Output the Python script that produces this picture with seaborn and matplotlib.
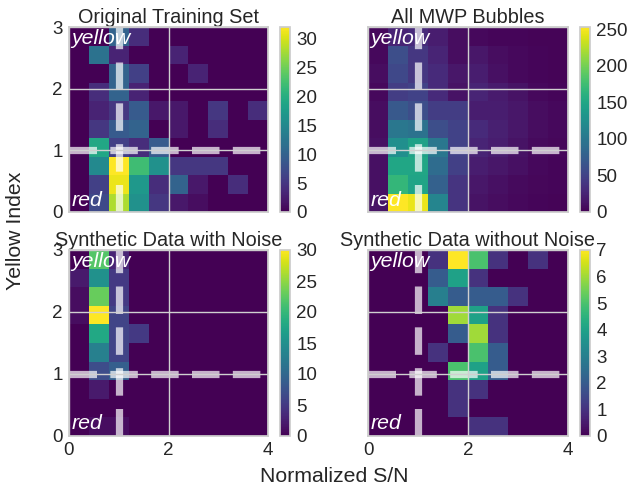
import numpy as np
import pandas as pd
import matplotlib
matplotlib.use("Agg")
import matplotlib.pyplot as plt
import seaborn as sns

# Histogram bin edges (normalized S/N along x, yellow index along y)
sn_edges = [0.0, 0.4, 0.8, 1.2, 1.6, 2.0, 2.4, 2.8, 3.2, 3.6, 4.0]
yi_edges = [0.0, 0.3, 0.6, 0.9, 1.2, 1.5, 1.8, 2.1, 2.4, 2.7, 3.0]

titles = ["Original Training Set", "All MWP Bubbles",
          "Synthetic Data with Noise", "Synthetic Data without Noise"]

# Counts per cell; each list row runs from the top bin (2.7-3.0) down to the bottom bin (0-0.3)
counts_training = [
    [0, 0, 10, 4, 0, 0, 0, 0, 0, 0],
    [0, 12, 3, 0, 0, 3, 0, 0, 0, 0],
    [0, 0, 10, 6, 0, 0, 3, 0, 0, 0],
    [0, 4, 10, 3, 0, 0, 0, 0, 0, 0],
    [0, 3, 5, 9, 2, 2, 0, 5, 0, 4],
    [0, 5, 9, 10, 0, 2, 0, 4, 0, 0],
    [0, 19, 6, 4, 9, 0, 0, 0, 0, 0],
    [0, 15, 32, 22, 16, 5, 5, 5, 0, 0],
    [0, 6, 31, 17, 4, 10, 2, 0, 4, 0],
    [0, 7, 28, 16, 5, 2, 1, 0, 0, 0],
]
counts_bubbles = [
    [5, 25, 30, 20, 8, 5, 3, 3, 2, 2],
    [5, 60, 40, 25, 8, 15, 8, 5, 3, 2],
    [8, 55, 40, 30, 15, 20, 10, 5, 3, 2],
    [5, 45, 50, 30, 12, 25, 18, 12, 5, 3],
    [8, 70, 60, 45, 45, 20, 20, 15, 8, 5],
    [8, 100, 95, 60, 50, 30, 22, 15, 8, 5],
    [10, 125, 145, 100, 50, 25, 20, 12, 6, 4],
    [10, 150, 150, 88, 48, 20, 15, 10, 5, 3],
    [10, 168, 148, 78, 38, 15, 10, 6, 4, 3],
    [12, 253, 245, 115, 38, 12, 8, 5, 3, 2],
]
counts_noise = [
    [0, 22, 3, 0, 0, 0, 0, 0, 0, 0],
    [2, 15, 5, 0, 0, 0, 0, 0, 0, 0],
    [1, 23, 5, 0, 0, 0, 0, 0, 0, 0],
    [1, 30, 6, 0, 0, 0, 0, 0, 0, 0],
    [0, 18, 6, 5, 0, 0, 0, 0, 0, 0],
    [0, 13, 6, 0, 0, 0, 0, 0, 0, 0],
    [0, 7, 9, 0, 0, 0, 0, 0, 0, 0],
    [0, 2, 0, 0, 0, 0, 0, 0, 0, 0],
    [0, 0, 0, 0, 0, 0, 0, 0, 0, 0],
    [0, 1, 1, 0, 0, 0, 0, 0, 0, 0],
]
counts_clean = [
    [0, 0, 0, 1, 7, 5, 1, 0, 1, 0],
    [0, 0, 0, 2, 4, 1, 0, 0, 0, 0],
    [0, 0, 0, 3, 2, 2, 2, 1, 0, 0],
    [0, 0, 0, 0, 6, 4, 1, 0, 0, 0],
    [0, 0, 0, 0, 2, 6, 1, 0, 0, 0],
    [0, 0, 0, 1, 0, 5, 2, 0, 0, 0],
    [0, 0, 0, 0, 5, 4, 2, 0, 0, 0],
    [0, 0, 0, 0, 1, 1, 0, 0, 0, 0],
    [0, 0, 0, 0, 1, 0, 0, 0, 0, 0],
    [0, 0, 0, 0, 0, 1, 1, 0, 0, 0],
]

cbar_ticks = [
    [0, 5, 10, 15, 20, 25, 30],
    [0, 50, 100, 150, 200, 250],
    [0, 5, 10, 15, 20, 25, 30],
    [0, 1, 2, 3, 4, 5, 6, 7],
]
x_ticks = [0, 2, 4]
y_ticks = [0, 1, 2, 3]


def to_long(counts):
    grid = np.asarray(counts, dtype=float)[::-1]
    xe = np.asarray(sn_edges)
    ye = np.asarray(yi_edges)
    xc = (xe[:-1] + xe[1:]) / 2
    yc = (ye[:-1] + ye[1:]) / 2
    xx, yy = np.meshgrid(xc, yc)
    return pd.DataFrame({"sn": xx.ravel(), "yi": yy.ravel(), "n": grid.ravel()})


sns.set_theme(style="whitegrid")
plt.rcParams["font.family"] = ["Liberation Sans", "DejaVu Sans"]
plt.rcParams["lines.scale_dashes"] = False

W, H = 630, 491
fig = plt.figure(figsize=(W / 100, H / 100), dpi=100)


def rect(l, r, t, b):
    return [l / W, 1 - b / H, (r - l) / W, (b - t) / H]


axes_px = [(69, 268, 27, 212), (368, 568, 27, 212),
           (69, 268, 250, 436), (368, 568, 250, 436)]
cbar_px = [(280, 290, 27, 212), (580, 590, 27, 212),
           (280, 290, 250, 436), (580, 590, 250, 436)]

panels = [counts_training, counts_bubbles, counts_noise, counts_clean]
LABEL = 15.3
TITLE = 14.3
TICK = 13.5
EDGE = "#cccccc"

for i, counts in enumerate(panels):
    ax = fig.add_axes(rect(*axes_px[i]))
    cax = fig.add_axes(rect(*cbar_px[i]))
    df = to_long(counts)
    sns.histplot(data=df, x="sn", y="yi", weights="n",
                 bins=[sn_edges, yi_edges], thresh=None, cmap="viridis",
                 cbar=True, cbar_ax=cax, cbar_kws={"ticks": cbar_ticks[i]},
                 ax=ax)
    ax.set_xlim(0, 4)
    ax.set_ylim(0, 3)
    ax.set_xticks(x_ticks)
    ax.set_yticks(y_ticks)
    ax.set_xlabel("")
    ax.set_ylabel("")
    ax.set_axisbelow(False)
    ax.grid(True, color="#d0d0d0", lw=1.0, zorder=3)
    ax.tick_params(length=0, labelsize=TICK, pad=4.5, colors="#262626")
    if i < 2:
        ax.tick_params(labelbottom=False)
    if i % 2 == 1:
        ax.tick_params(labelleft=False)
    for sp in ax.spines.values():
        sp.set_edgecolor(EDGE)
        sp.set_linewidth(1.25)
        sp.set_zorder(4)

    ax.axvline(1, color="white", alpha=0.7, lw=5.2, dashes=(19.8, 9.6), zorder=2)
    ax.axhline(1, color="white", alpha=0.7, lw=5.2, dashes=(19.8, 9.6), zorder=2)

    ax.text(0.012, 0.99, "yellow", transform=ax.transAxes, color="white",
            style="italic", fontsize=LABEL, ha="left", va="top", zorder=5)
    ax.text(0.012, 0.035, "red", transform=ax.transAxes, color="white",
            style="italic", fontsize=LABEL, ha="left", va="baseline", zorder=5)
    ax.set_title(titles[i], fontsize=TITLE, pad=3, color="#262626")

    cb = ax.collections[0].colorbar
    cb.outline.set_edgecolor(EDGE)
    cb.outline.set_linewidth(1.25)
    cax.tick_params(length=0, labelsize=TICK, pad=4.5, colors="#262626")
    cax.grid(False)

fig.text(15.5 / W, 1 - 231 / H, "Yellow Index", rotation=90,
         ha="center", va="center", fontsize=LABEL, color="#262626")
fig.text(334 / W, 1 - 477 / H, "Normalized S/N",
         ha="center", va="center", fontsize=LABEL, color="#262626")

fig.savefig("out.png", dpi=100)
